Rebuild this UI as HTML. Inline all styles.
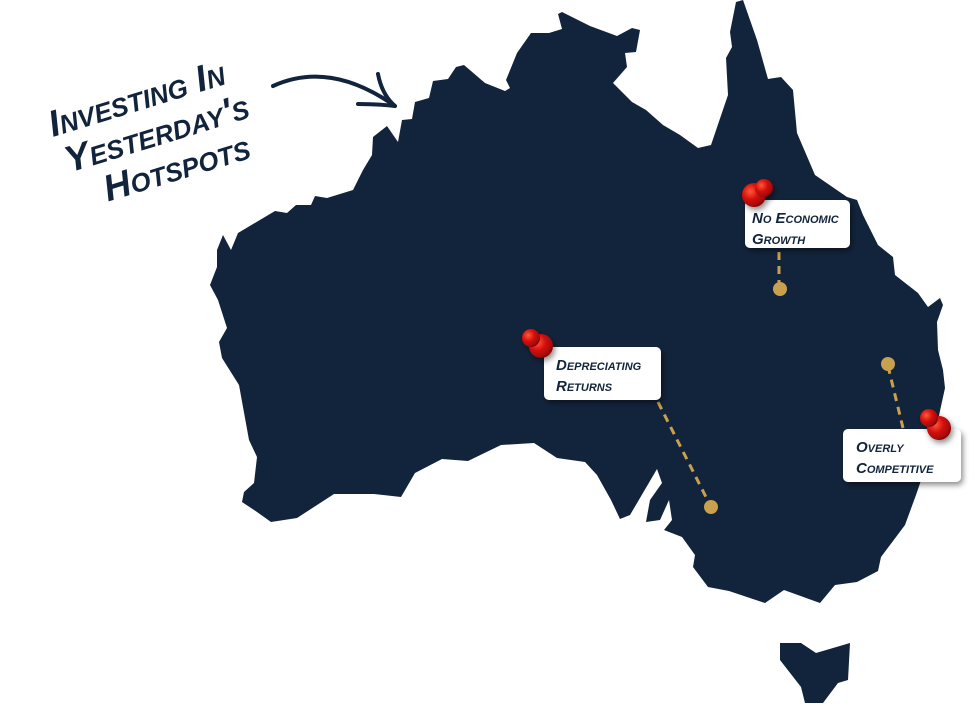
<!DOCTYPE html>
<html><head><meta charset="utf-8"><style>
html,body{margin:0;padding:0;background:#fff}
svg{display:block}
.t{font-family:"Liberation Sans",sans-serif;font-weight:bold;font-style:italic;font-variant:small-caps;fill:#12243b}
</style></head><body>
<svg width="979" height="704" viewBox="0 0 979 704" xmlns="http://www.w3.org/2000/svg">
<defs>
<filter id="sh" x="-30%" y="-30%" width="160%" height="160%"><feDropShadow dx="2" dy="3" stdDeviation="3" flood-opacity="0.45"/></filter>
<radialGradient id="pg" cx="35%" cy="35%" r="70%"><stop offset="0" stop-color="#ff5a3a"/><stop offset="0.5" stop-color="#d40c0c"/><stop offset="1" stop-color="#8a0505"/></radialGradient>
</defs>
<path fill="#12243b" d="M210,285 L217,267 L217,250 L223,235 L231,250 L238,233 L275,211 L287,213 L296,205 L311,205 L315,196 L327,198 L353,190 L363,170 L372,155 L373,137 L387,126 L398,142 L402,120 L412,119 L415,102 L429,98 L433,81 L448,79 L456,67 L464,65 L485,83 L505,91 L510,88 L506,80 L517,53 L531,33 L549,33 L562,29 L558,14 L562,12 L590,26 L617,36 L632,28 L640,30 L636,52 L625,53 L627,67 L613,83 L632,102 L646,110 L663,125 L680,135 L698,148 L711,145 L728,95 L726,58 L732,47 L730,32 L736,2 L743,0 L757,40 L768,79 L781,77 L793,90 L797,133 L815,175 L847,197 L857,200 L863,215 L878,245 L893,257 L895,275 L918,293 L928,307 L940,298 L943,305 L937,322 L938,350 L943,370 L945,388 L938,420 L928,460 L916,495 L905,525 L881,557 L878,571 L857,582 L835,585 L820,603 L784,590 L765,603 L729,591 L708,587 L693,567 L695,555 L682,537 L664,530 L672,520 L669,500 L660,520 L646,522 L650,500 L662,483 L657,469 L630,515 L620,519 L611,500 L597,475 L585,462 L557,458 L534,443 L501,445 L468,461 L442,459 L415,473 L401,497 L374,494 L334,494 L297,518 L271,522 L257,512 L242,502 L244,492 L254,483 L257,457 L249,440 L239,385 L222,358 L219,342 L227,328 L218,300 Z"/>
<path fill="#12243b" d="M780,643 L801,643 L816,653 L850,643 L848,680 L838,683 L823,703 L805,703 L801,687 L780,660 Z"/>
<!-- heading -->
<g transform="rotate(-17 155 135)">
<text class="t" x="148" y="107" font-size="37" text-anchor="middle">Investing In</text>
<text class="t" x="157" y="146" font-size="37" text-anchor="middle">Yesterday's</text>
<text class="t" x="166" y="185" font-size="37" text-anchor="middle">Hotspots</text>
</g>
<path d="M273,86 Q330,60 395,106" fill="none" stroke="#12243b" stroke-width="4" stroke-linecap="round"/>
<path d="M378,74 Q382,95 395,106 Q378,104 358,104" fill="none" stroke="#12243b" stroke-width="4" stroke-linecap="round" stroke-linejoin="round"/>
<!-- connectors -->
<g stroke="#c9a04e" stroke-width="3" stroke-dasharray="8 6" fill="none">
<line x1="779" y1="252" x2="779" y2="286"/>
<line x1="658" y1="402" x2="710" y2="505"/>
<line x1="888" y1="366" x2="903" y2="428"/>
</g>
<g fill="#c9a04e"><circle cx="780" cy="289" r="7"/><circle cx="711" cy="507" r="7"/><circle cx="888" cy="364" r="7"/></g>
<!-- boxes -->
<g fill="#fff" filter="url(#sh)">
<rect x="745" y="200" width="105" height="48" rx="5"/>
<rect x="544" y="347" width="117" height="53" rx="5"/>
<rect x="843" y="429" width="118" height="53" rx="5"/>
</g>
<g class="t" font-size="15">
<text x="752" y="223">No Economic</text><text x="752" y="244">Growth</text>
<text x="556" y="370">Depreciating</text><text x="556" y="391">Returns</text>
<text x="856" y="452">Overly</text><text x="856" y="473">Competitive</text>
</g>
<!-- pins -->
<g filter="url(#sh)">
<circle cx="754" cy="195" r="12" fill="url(#pg)"/><circle cx="764" cy="188" r="9" fill="url(#pg)"/>
<circle cx="541" cy="346" r="12" fill="url(#pg)"/><circle cx="531" cy="338" r="9" fill="url(#pg)"/>
<circle cx="939" cy="428" r="12" fill="url(#pg)"/><circle cx="929" cy="418" r="9" fill="url(#pg)"/>
</g>
</svg>
</body></html>
